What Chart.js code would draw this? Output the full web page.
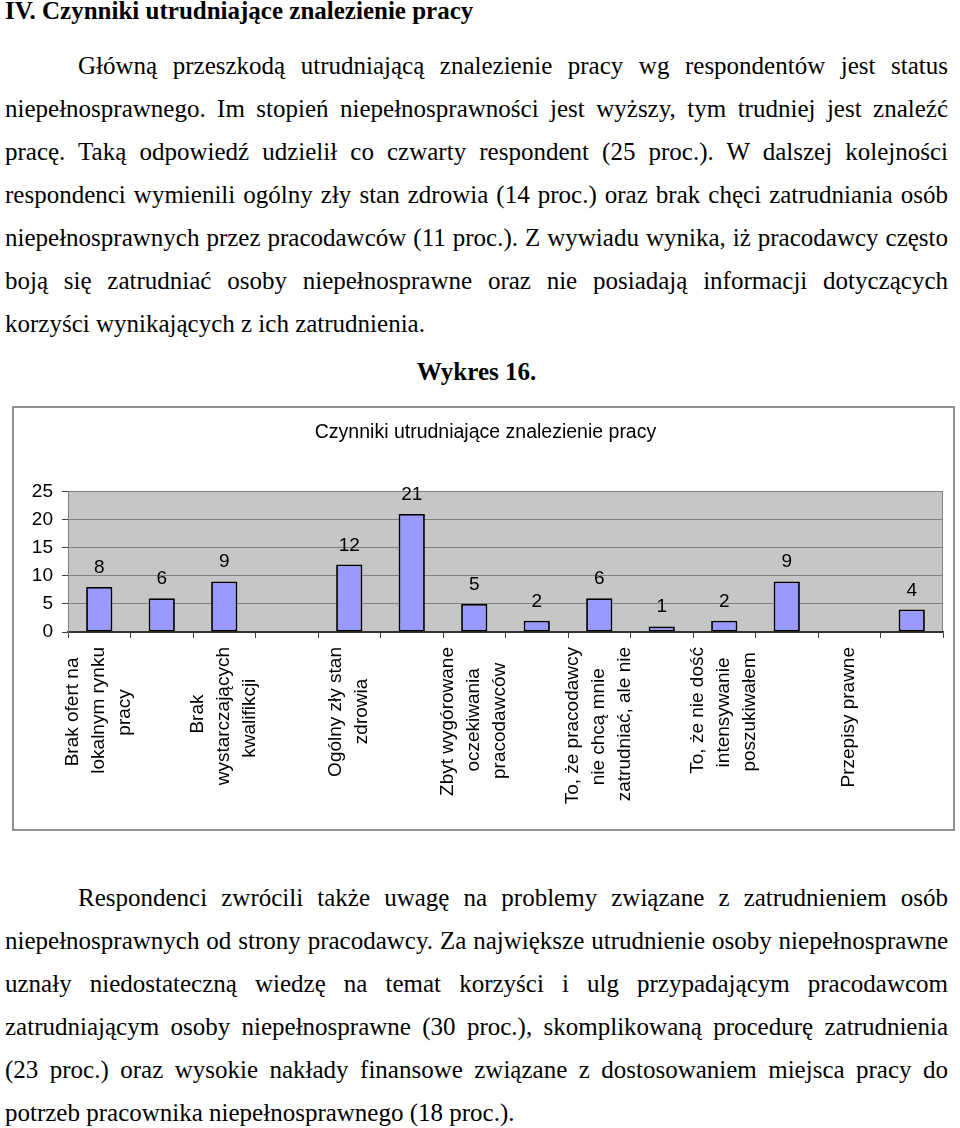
<!DOCTYPE html>
<html><head><meta charset="utf-8">
<script src="https://cdn.jsdelivr.net/npm/chart.js@4"></script>
<style>
html,body{margin:0;padding:0;background:#fff;}
body{width:960px;height:1128px;position:relative;overflow:hidden;font-family:"Liberation Serif","Times New Roman",serif;color:#000;}
.ln{position:absolute;left:5px;width:943px;font-size:25px;line-height:43px;height:43px;text-align:justify;text-align-last:justify;box-sizing:border-box;}
.ind{padding-left:73px;}
.last{text-align-last:left;}
.b{font-weight:bold;}
.ctr{text-align:center;text-align-last:center;}
#box{position:absolute;left:12px;top:406px;width:943px;height:425px;border:2px solid #909090;box-sizing:border-box;background:#fff;}
canvas{display:block;}
</style>
</head><body>
<div class="ln b last" style="top:-11px">IV. Czynniki utrudniające znalezienie pracy</div>
<div class="ln ind" style="top:44px">Główną przeszkodą utrudniającą znalezienie pracy wg respondentów jest status</div>
<div class="ln" style="top:87px">niepełnosprawnego. Im stopień niepełnosprawności jest wyższy, tym trudniej jest znaleźć</div>
<div class="ln" style="top:130px">pracę. Taką odpowiedź udzielił co czwarty respondent (25 proc.). W dalszej kolejności</div>
<div class="ln" style="top:173px">respondenci wymienili ogólny zły stan zdrowia (14 proc.) oraz brak chęci zatrudniania osób</div>
<div class="ln" style="top:216px">niepełnosprawnych przez pracodawców (11 proc.). Z wywiadu wynika, iż pracodawcy często</div>
<div class="ln" style="top:259px">boją się zatrudniać osoby niepełnosprawne oraz nie posiadają informacji dotyczących</div>
<div class="ln last" style="top:302px">korzyści wynikających z ich zatrudnienia.</div>
<div class="ln b ctr" style="top:350px">Wykres 16.</div>

<div id="box"><canvas id="c" width="939" height="421"></canvas></div>

<div class="ln ind" style="top:876px">Respondenci zwrócili także uwagę na problemy związane z zatrudnieniem osób</div>
<div class="ln" style="top:919px">niepełnosprawnych od strony pracodawcy. Za największe utrudnienie osoby niepełnosprawne</div>
<div class="ln" style="top:962px">uznały niedostateczną wiedzę na temat korzyści i ulg przypadającym pracodawcom</div>
<div class="ln" style="top:1005px">zatrudniającym osoby niepełnosprawne (30 proc.), skomplikowaną procedurę zatrudnienia</div>
<div class="ln" style="top:1048px">(23 proc.) oraz wysokie nakłady finansowe związane z dostosowaniem miejsca pracy do</div>
<div class="ln last" style="top:1091px">potrzeb pracownika niepełnosprawnego (18 proc.).</div>

<script>
// ---- data ----
const chartTitle = 'Czynniki utrudniające znalezienie pracy';
const categories = [
  ['Brak ofert na', 'lokalnym rynku', 'pracy'],
  '',
  ['Brak', 'wystarczających', 'kwalifikcji'],
  '',
  ['Ogólny zły stan', 'zdrowia'],
  '',
  ['Zbyt wygórowane', 'oczekiwania', 'pracodawców'],
  '',
  ['To, że pracodawcy', 'nie chcą mnie', 'zatrudniać, ale nie'],
  '',
  ['To, że nie dość', 'intensywanie', 'poszukiwałem'],
  '',
  ['Przepisy prawne'],
  ''
];
const values = [8, 6, 9, null, 12, 21, 5, 2, 6, 1, 2, 9, null, 4];
const yTicks = [0, 5, 10, 15, 20, 25];

// ---- styling helpers ----
const SANS = '"Liberation Sans", Arial, sans-serif';
const mctx = document.createElement('canvas').getContext('2d');
mctx.font = '19px ' + SANS;
const NBSP = '\u00A0';
function layoutLabel(lbl) {
  if (!lbl || (Array.isArray(lbl) && lbl.length === 0)) return '';
  const lines = Array.isArray(lbl) ? lbl : [lbl];
  const widths = lines.map(s => mctx.measureText(s).width);
  const maxW = Math.max(...widths);
  const sp = mctx.measureText(NBSP).width;
  const padded = lines.map((s, i) => s + NBSP.repeat(Math.round((maxW - widths[i]) / 2 / sp)));
  const out = [];
  const start = 3 - padded.length;
  for (let k = 0; k < start; k++) out.push('');
  padded.forEach((s, i) => { if (i > 0) out.push(''); out.push(s); });
  return out;
}

const plotBg = {
  id: 'plotBg',
  beforeDraw(chart) {
    const {ctx, chartArea: a} = chart;
    ctx.save();
    ctx.fillStyle = '#c6c6c6';
    ctx.fillRect(a.left, a.top, a.width, a.height);
    ctx.strokeStyle = '#808080';
    ctx.lineWidth = 1;
    ctx.beginPath();
    ctx.moveTo(a.right - 0.5, a.top);
    ctx.lineTo(a.right - 0.5, a.bottom);
    ctx.stroke();
    ctx.restore();
  }
};

const dataLabels = {
  id: 'dataLabels',
  afterDatasetsDraw(chart) {
    const ctx = chart.ctx;
    const meta = chart.getDatasetMeta(0);
    const data = chart.data.datasets[0].data;
    ctx.save();
    ctx.font = '19px ' + SANS;
    ctx.fillStyle = '#000';
    ctx.textAlign = 'center';
    ctx.textBaseline = 'alphabetic';
    meta.data.forEach((bar, i) => {
      const v = data[i];
      if (v === null || v === undefined) return;
      ctx.fillText(String(v), bar.x, bar.y - 14);
    });
    ctx.restore();
  }
};

new Chart(document.getElementById('c'), {
  type: 'bar',
  data: {
    labels: categories,
    datasets: [{
      data: values,
      backgroundColor: '#9999ff',
      borderColor: '#000000',
      borderWidth: 1.8,
      borderSkipped: false,
      barPercentage: 0.42,
      categoryPercentage: 1.0
    }]
  },
  options: {
    responsive: false,
    devicePixelRatio: 1,
    animation: false,
    layout: {padding: {left: 14, right: 10, top: 0, bottom: 0}},
    plugins: {
      legend: {display: false},
      tooltip: {enabled: false},
      title: {
        display: true,
        text: chartTitle,
        color: '#000',
        font: {family: SANS, size: 19.5, weight: 'normal', lineHeight: 1.2},
        padding: {top: 13, bottom: 47}
      }
    },
    scales: {
      x: {
        offset: true,
        grid: {display: true, drawOnChartArea: false, drawTicks: true, tickLength: 6, offset: true, tickColor: '#404040', tickWidth: 1},
        border: {display: true, color: '#333333', width: 1.5},
        ticks: {
          autoSkip: false,
          minRotation: 90,
          maxRotation: 90,
          padding: 9,
          labelOffset: -26,
          color: '#000',
          font: {family: SANS, size: 19, lineHeight: '13px'},
          callback: function (value) { return layoutLabel(this.getLabelForValue(value)); }
        },
        afterFit(s) { s.height = 197; }
      },
      y: {
        min: 0,
        max: 25,
        afterBuildTicks(s) { s.ticks = yTicks.map(v => ({value: v})); },
        grid: {
          color: c => (c.tick && c.tick.value === 0) ? '#333333' : '#808080',
          lineWidth: 1,
          tickLength: 6,
          tickColor: '#404040'
        },
        border: {display: true, color: '#808080', width: 1},
        ticks: {padding: 9, color: '#000', font: {family: SANS, size: 19}},
        afterFit(s) { s.width = 40; }
      }
    }
  },
  plugins: [plotBg, dataLabels]
});
</script>
</body></html>
